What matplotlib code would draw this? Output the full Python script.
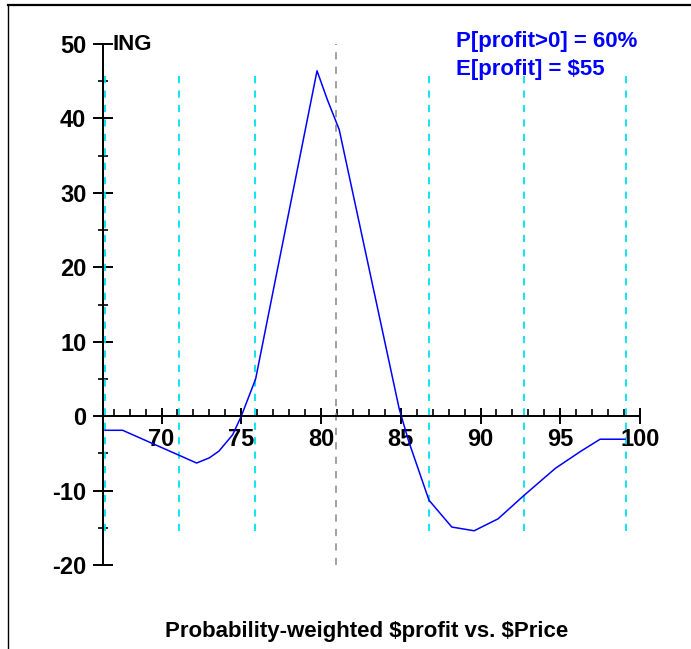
import matplotlib
matplotlib.use('Agg')
import matplotlib.pyplot as plt
from matplotlib.lines import Line2D
from matplotlib.ticker import MultipleLocator

# Curve
price = [66.46, 67.56, 72.2, 73.0, 73.6, 74.46, 75.0, 75.9, 79.75, 80.4, 81.14,
         84.9, 85.5, 86.77, 88.2, 89.6, 91.1, 92.7, 94.7, 96.3, 97.5, 99.06]
profit = [-1.9, -1.9, -6.3, -5.6, -4.7, -2.5, 0.0, 5.0, 46.4, 42.5, 38.5,
          1.0, -3.4, -11.3, -14.9, -15.4, -13.8, -10.7, -7.0, -4.7, -3.1, -3.1]

# Reference lines
cyan_x = [66.46, 71.08, 75.83, 86.77, 92.7, 99.1]
current_price = 80.97

ticker_name = 'ING'
stats_lines = ['P[profit>0] = 60%', 'E[profit] = $55']
title = 'Probability-weighted $profit vs. $Price'

plt.rcParams['font.family'] = ['Liberation Sans', 'DejaVu Sans']
plt.rcParams['font.weight'] = 'bold'
plt.rcParams['axes.unicode_minus'] = False
plt.rcParams['text.parse_math'] = False

fig = plt.figure(figsize=(6.91, 6.49), dpi=100)
ax = fig.add_axes([103 / 691, 1 - 565 / 649, 537 / 691, 521 / 649])

ax.set_xlim(66.33, 100)
ax.set_ylim(-20, 50)

ymin, ymax = min(profit), max(profit)
ax.vlines(cyan_x, ymin, ymax, colors='#00e0f0', linestyles=(0, (4, 4)), lw=1.3)
ax.vlines([current_price], -20, 50, colors='#999999', linestyles=(0, (4, 4)), lw=1.3)
ax.plot(price, profit, color='blue', lw=1.1)

for s in ['top', 'right']:
    ax.spines[s].set_visible(False)
ax.spines['bottom'].set_position(('data', 0))
ax.spines['bottom'].set_linewidth(1.4)
ax.spines['left'].set_linewidth(1.4)

ax.xaxis.set_major_locator(MultipleLocator(5))
ax.xaxis.set_minor_locator(MultipleLocator(1))
ax.yaxis.set_major_locator(MultipleLocator(10))
ax.yaxis.set_minor_locator(MultipleLocator(5))
ax.set_xticks([70, 75, 80, 85, 90, 95, 100])
ax.tick_params(axis='x', which='major', direction='inout', length=11, width=1.4,
               labelsize=17, pad=3)
ax.tick_params(axis='x', which='minor', direction='in', length=5, width=1.2)
ax.tick_params(axis='y', which='major', direction='inout', length=14, width=1.4,
               labelsize=17, pad=5)
ax.tick_params(axis='y', which='minor', direction='inout', length=7, width=1.2)
for lab in ax.get_xticklabels() + ax.get_yticklabels():
    lab.set_fontweight('bold')

fig.text(113 / 691, 1 - 44 / 649, ticker_name, fontsize=16, fontweight='bold',
         ha='left', va='center')
fig.text(456 / 691, 1 - 42 / 649, stats_lines[0], fontsize=16, fontweight='bold',
         color='blue', ha='left', va='center')
fig.text(456 / 691, 1 - 69 / 649, stats_lines[1], fontsize=16, fontweight='bold',
         color='blue', ha='left', va='center')
fig.text(367 / 691, 1 - 632 / 649, title, fontsize=16, fontweight='bold',
         ha='center', va='center')

# window border lines
fig.add_artist(Line2D([8 / 691, 1], [1 - 5 / 649, 1 - 5 / 649], color='black', lw=1.6))
fig.add_artist(Line2D([8 / 691, 8 / 691], [0, 1 - 5 / 649], color='black', lw=1.0))

fig.savefig('out.png', dpi=100)
